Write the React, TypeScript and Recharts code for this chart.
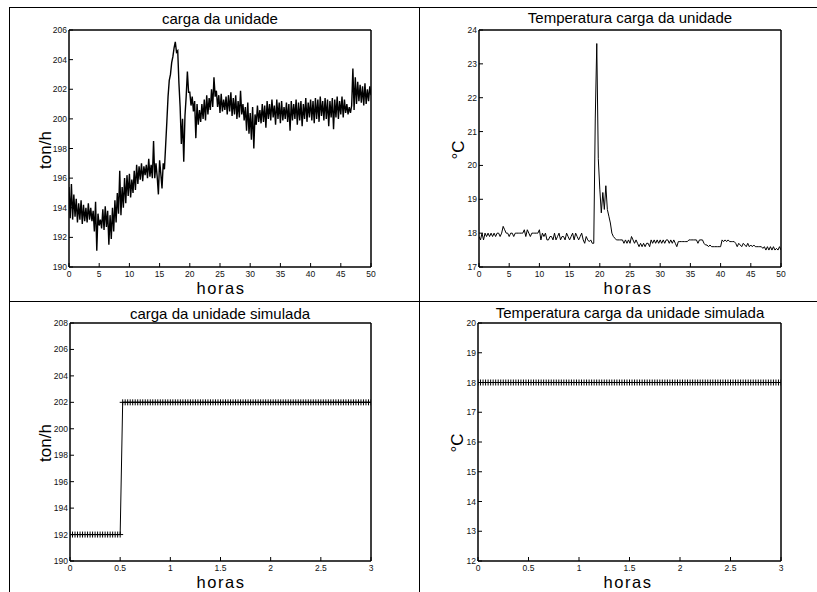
import React from 'react';
import { LineChart, Line, XAxis, YAxis } from 'recharts';

const FONT = '"Liberation Sans", Arial, Helvetica, sans-serif';

// measured feed load, one sample every 0.2 h over 50 h
const LOAD_STEP_H = 0.2;
const loadTonH = [
  195.4, 193.3, 195.6, 193.2, 194.9, 193.4, 194.6, 193.0, 194.3, 193.2,
  194.5, 192.9, 194.2, 193.1, 194.0, 193.0, 194.3, 193.2, 194.0, 193.1,
  193.8, 192.4, 194.4, 191.1, 193.6, 192.8, 193.2, 192.6, 193.9, 192.5,
  194.1, 192.7, 193.8, 191.5, 193.5, 191.9, 194.0, 192.4, 194.5, 193.0,
  195.0, 193.6, 196.5, 193.5, 195.4, 194.0, 196.0, 194.3, 196.2, 194.8,
  196.3, 194.7, 195.9, 195.0, 196.5, 195.2, 196.9, 195.6, 196.8, 195.9,
  197.0, 195.8, 196.8, 196.2, 196.9, 196.0, 197.3, 196.1, 196.9, 196.0,
  198.5, 196.0, 197.0, 196.1, 194.9, 197.2, 196.3, 195.3, 197.0, 196.6,
  198.2, 199.8, 201.5, 202.6, 203.0, 203.8, 204.2, 204.8, 205.2, 204.5,
  204.6, 202.4, 200.8, 198.3, 200.0, 197.1, 200.2, 201.5, 203.2, 201.8,
  201.8, 200.9, 201.5, 200.5, 201.2, 198.7, 201.0, 199.6, 200.6, 199.8,
  201.0, 200.0, 201.3, 199.9, 201.6, 200.3, 201.4, 200.6, 202.0, 200.8,
  202.8, 201.5, 201.9, 200.8, 201.6, 200.4, 201.7, 200.5, 201.3, 200.6,
  201.5, 200.3, 201.6, 200.5, 201.8, 200.2, 201.4, 200.3, 201.6, 200.0,
  201.2, 200.1, 201.9, 200.3, 201.0, 199.9, 200.8, 199.2, 201.1, 199.0,
  200.4, 198.6, 200.8, 198.0, 200.3, 199.6, 200.9, 199.8, 200.6, 199.7,
  201.0, 199.8, 200.9, 199.4, 201.2, 200.0, 201.0, 199.9, 201.3, 200.1,
  200.9, 199.6, 201.3, 200.0, 201.1, 199.7, 201.2, 199.9, 200.8, 200.0,
  201.1, 199.8, 201.0, 199.2, 201.2, 199.9, 201.0, 200.0, 201.3, 199.6,
  201.1, 199.9, 201.2, 199.5, 201.0, 200.0, 201.4, 199.8, 201.1, 200.1,
  201.3, 199.9, 201.2, 199.7, 201.4, 200.0, 201.3, 199.8, 201.5, 200.2,
  201.2, 199.9, 201.4, 200.0, 201.3, 199.5, 201.2, 200.1, 201.4, 199.3,
  201.3, 200.1, 201.5, 200.0, 201.2, 200.3, 201.5, 200.1, 201.3, 200.4,
  201.0, 200.3, 200.8, 200.4, 200.9, 203.4, 200.6, 202.8, 201.0, 202.5,
  201.2, 202.3, 201.1, 202.2, 200.9, 202.4, 201.0, 202.0, 201.2, 202.2,
  201.6,
];

// measured feed temperature, one sample every 0.25 h over 50 h
const TEMP_STEP_H = 0.25;
const tempC = [
  17.9, 17.8, 18.0, 17.8, 18.0, 17.9, 18.0, 17.9,
  18.0, 17.9, 18.0, 17.9, 18.0, 18.0, 17.9, 18.0,
  18.2, 18.1, 18.0, 18.0, 17.9, 18.0, 18.0, 17.9,
  18.0, 18.0, 18.0, 18.0, 18.0, 18.0, 18.1, 17.9,
  18.1, 18.0, 17.9, 18.0, 18.0, 18.0, 18.0, 18.0,
  18.1, 17.8, 18.0, 17.9, 18.0, 17.8, 17.8, 17.9,
  17.9, 17.8, 18.0, 17.8, 17.9, 18.0, 17.8, 17.9,
  17.9, 17.8, 18.0, 17.9, 17.8, 17.9, 18.0, 17.8,
  18.0, 17.9, 17.8, 17.9, 18.0, 17.8, 17.7, 17.9,
  17.8, 17.75, 17.8, 17.7, 17.7, 21.4, 23.6, 20.2,
  19.3, 18.6, 19.2, 18.7, 19.4, 18.7, 18.5, 18.3,
  18.0, 17.9, 17.85, 17.8, 17.8, 17.8, 17.8, 17.8,
  17.7, 17.8, 17.7, 17.8, 17.7, 17.9, 17.8, 17.7,
  17.8, 17.7, 17.6, 17.7, 17.6, 17.7, 17.6, 17.7,
  17.7, 17.6, 17.8, 17.7, 17.8, 17.7, 17.8, 17.7,
  17.8, 17.7, 17.8, 17.7, 17.8, 17.8, 17.7, 17.8,
  17.7, 17.8, 17.7, 17.6, 17.75, 17.75, 17.75, 17.75,
  17.75, 17.75, 17.75, 17.8, 17.8, 17.8, 17.8, 17.8,
  17.8, 17.7, 17.8, 17.8, 17.8, 17.7, 17.65, 17.65,
  17.6, 17.65, 17.6, 17.6, 17.6, 17.6, 17.6, 17.6,
  17.6, 17.8, 17.75, 17.8, 17.75, 17.8, 17.75, 17.75,
  17.75, 17.75, 17.7, 17.6, 17.7, 17.65, 17.6, 17.7,
  17.65, 17.6, 17.7, 17.6, 17.65, 17.6, 17.65, 17.6,
  17.6, 17.6, 17.6, 17.6, 17.55, 17.6, 17.5, 17.6,
  17.5, 17.6, 17.5, 17.6, 17.5, 17.55, 17.5, 17.6,
  17.5,
];

// simulated inputs, one sample every 0.025 h over 3 h
const SIM_STEP_H = 0.025;
const simLoadTonH = [
  192, 192, 192, 192, 192, 192, 192, 192, 192, 192,
  192, 192, 192, 192, 192, 192, 192, 192, 192, 192,
  192, 202, 202, 202, 202, 202, 202, 202, 202, 202,
  202, 202, 202, 202, 202, 202, 202, 202, 202, 202,
  202, 202, 202, 202, 202, 202, 202, 202, 202, 202,
  202, 202, 202, 202, 202, 202, 202, 202, 202, 202,
  202, 202, 202, 202, 202, 202, 202, 202, 202, 202,
  202, 202, 202, 202, 202, 202, 202, 202, 202, 202,
  202, 202, 202, 202, 202, 202, 202, 202, 202, 202,
  202, 202, 202, 202, 202, 202, 202, 202, 202, 202,
  202, 202, 202, 202, 202, 202, 202, 202, 202, 202,
  202, 202, 202, 202, 202, 202, 202, 202, 202, 202,
  202,
];
const simTempC = [
  18, 18, 18, 18, 18, 18, 18, 18, 18, 18,
  18, 18, 18, 18, 18, 18, 18, 18, 18, 18,
  18, 18, 18, 18, 18, 18, 18, 18, 18, 18,
  18, 18, 18, 18, 18, 18, 18, 18, 18, 18,
  18, 18, 18, 18, 18, 18, 18, 18, 18, 18,
  18, 18, 18, 18, 18, 18, 18, 18, 18, 18,
  18, 18, 18, 18, 18, 18, 18, 18, 18, 18,
  18, 18, 18, 18, 18, 18, 18, 18, 18, 18,
  18, 18, 18, 18, 18, 18, 18, 18, 18, 18,
  18, 18, 18, 18, 18, 18, 18, 18, 18, 18,
  18, 18, 18, 18, 18, 18, 18, 18, 18, 18,
  18, 18, 18, 18, 18, 18, 18, 18, 18, 18,
  18,
];

const hourTicks50 = [0, 5, 10, 15, 20, 25, 30, 35, 40, 45, 50];
const hourTicks3 = [0, 0.5, 1, 1.5, 2, 2.5, 3];
const loadTicks = [190, 192, 194, 196, 198, 200, 202, 204, 206];
const simLoadTicks = [190, 192, 194, 196, 198, 200, 202, 204, 206, 208];
const tempTicks = [17, 18, 19, 20, 21, 22, 23, 24];
const simTempTicks = [12, 13, 14, 15, 16, 17, 18, 19, 20];

const toRows = (values: number[], step: number) =>
  values.map((v, i) => ({ t: Math.round(i * step * 1000) / 1000, v }));

const PlusDot = (props: any) => {
  const { cx, cy, index } = props;
  if (cx == null || cy == null) return <g key={index} />;
  return (
    <path
      key={index}
      d={`M${cx - 3},${cy}h6M${cx},${cy - 3}v6`}
      stroke="#000"
      strokeWidth={1}
      fill="none"
    />
  );
};

interface Box { x: number; y: number; }

interface PanelProps {
  left: number;
  top: number;
  width: number;
  height: number;
  // plot rectangle inside the panel box
  plot: { x0: number; y0: number; x1: number; y1: number };
  data: { t: number; v: number }[];
  xTicks: number[];
  yTicks: number[];
  plus?: boolean;
  lineWidth?: number;
  title: string;
  titleAt: Box;
  yLabel: string;
  yLabelAt: Box;
  xLabelAt: Box;
}

const tickText = { fontSize: 8.5, fill: '#111', fontFamily: FONT };
const boxLine = { stroke: '#000', strokeWidth: 1.5 };
const tickMark = { stroke: '#000', strokeWidth: 1 };

// axis bands reserved around the plot rectangle
const LEFT_W = 30;
const BOTTOM_H = 20;
const EDGE = 6;

const labelStyle = (x: number, y: number, size: number, rotate = false): React.CSSProperties => ({
  position: 'absolute',
  left: x,
  top: y,
  transform: rotate ? 'translate(-50%, -50%) rotate(-90deg)' : 'translate(-50%, -50%)',
  whiteSpace: 'nowrap',
  fontFamily: FONT,
  fontSize: size,
  lineHeight: `${Math.round(size * 0.75)}px`,
  color: '#000',
});

const Panel: React.FC<PanelProps> = (p) => {
  const xDomain = [p.xTicks[0], p.xTicks[p.xTicks.length - 1]];
  const yDomain = [p.yTicks[0], p.yTicks[p.yTicks.length - 1]];
  const margin = {
    top: p.plot.y0 - EDGE,
    left: p.plot.x0 - LEFT_W,
    right: p.width - p.plot.x1 - EDGE,
    bottom: p.height - p.plot.y1 - BOTTOM_H,
  };
  return (
    <>
      <div style={{ position: 'absolute', left: p.left, top: p.top }}>
        <LineChart width={p.width} height={p.height} data={p.data} margin={margin}>
          <XAxis
            xAxisId="b"
            dataKey="t"
            type="number"
            domain={xDomain}
            ticks={p.xTicks}
            interval={0}
            allowDataOverflow
            height={BOTTOM_H}
            tickSize={-4}
            tickMargin={8}
            axisLine={boxLine}
            tickLine={tickMark}
            tick={tickText}
          />
          <XAxis
            xAxisId="t"
            orientation="top"
            dataKey="t"
            type="number"
            domain={xDomain}
            ticks={p.xTicks}
            interval={0}
            allowDataOverflow
            height={EDGE}
            tickSize={-4}
            axisLine={boxLine}
            tickLine={tickMark}
            tick={false}
          />
          <YAxis
            yAxisId="l"
            type="number"
            domain={yDomain}
            ticks={p.yTicks}
            interval={0}
            allowDataOverflow
            width={LEFT_W}
            tickSize={-4}
            tickMargin={6}
            axisLine={boxLine}
            tickLine={tickMark}
            tick={tickText}
          />
          <YAxis
            yAxisId="r"
            orientation="right"
            type="number"
            domain={yDomain}
            ticks={p.yTicks}
            interval={0}
            allowDataOverflow
            width={EDGE}
            tickSize={-4}
            axisLine={boxLine}
            tickLine={tickMark}
            tick={false}
          />
          <Line
            xAxisId="b"
            yAxisId="l"
            dataKey="v"
            type="linear"
            stroke="#000"
            strokeWidth={p.lineWidth ?? 1}
            dot={p.plus ? PlusDot : false}
            activeDot={false}
            isAnimationActive={false}
          />
        </LineChart>
      </div>
      <div style={labelStyle(p.titleAt.x, p.titleAt.y, 15)}>{p.title}</div>
      <div style={labelStyle(p.yLabelAt.x, p.yLabelAt.y, 17, true)}>{p.yLabel}</div>
      <div style={{ ...labelStyle(p.xLabelAt.x, p.xLabelAt.y, 16.5), letterSpacing: 1.5 }}>
        horas
      </div>
    </>
  );
};

const rule = (style: React.CSSProperties) => (
  <div style={{ position: 'absolute', background: '#000', ...style }} />
);

export default function App() {
  return (
    <div
      style={{
        position: 'absolute',
        left: 0,
        top: 0,
        width: 817,
        height: 592,
        overflow: 'hidden',
        background: '#fff',
      }}
    >
      {rule({ left: 9, top: 7, width: 808, height: 1 })}
      {rule({ left: 9, top: 301, width: 808, height: 1 })}
      {rule({ left: 9, top: 7, width: 1, height: 585 })}
      {rule({ left: 419, top: 7, width: 1, height: 585 })}

      <Panel
        left={0}
        top={0}
        width={410}
        height={300}
        plot={{ x0: 69, y0: 30, x1: 371, y1: 267 }}
        data={toRows(loadTonH, LOAD_STEP_H)}
        xTicks={hourTicks50}
        yTicks={loadTicks}
        lineWidth={1.4}
        title="carga da unidade"
        titleAt={{ x: 220, y: 17.5 }}
        yLabel="ton/h"
        yLabelAt={{ x: 45, y: 150 }}
        xLabelAt={{ x: 221, y: 288.3 }}
      />
      <Panel
        left={410}
        top={0}
        width={407}
        height={300}
        plot={{ x0: 69, y0: 30, x1: 371, y1: 267 }}
        data={toRows(tempC, TEMP_STEP_H)}
        xTicks={hourTicks50}
        yTicks={tempTicks}
        title="Temperatura carga da unidade"
        titleAt={{ x: 630, y: 17 }}
        yLabel="°C"
        yLabelAt={{ x: 458, y: 150 }}
        xLabelAt={{ x: 628, y: 288.3 }}
      />
      <Panel
        left={0}
        top={294}
        width={410}
        height={298}
        plot={{ x0: 70, y0: 29, x1: 371, y1: 267 }}
        data={toRows(simLoadTonH, SIM_STEP_H)}
        xTicks={hourTicks3}
        yTicks={simLoadTicks}
        plus
        title="carga da unidade simulada"
        titleAt={{ x: 220, y: 313 }}
        yLabel="ton/h"
        yLabelAt={{ x: 45, y: 443 }}
        xLabelAt={{ x: 221, y: 582.3 }}
      />
      <Panel
        left={410}
        top={294}
        width={407}
        height={298}
        plot={{ x0: 68, y0: 29, x1: 371, y1: 267 }}
        data={toRows(simTempC, SIM_STEP_H)}
        xTicks={hourTicks3}
        yTicks={simTempTicks}
        plus
        title="Temperatura carga da unidade simulada"
        titleAt={{ x: 630, y: 312 }}
        yLabel="°C"
        yLabelAt={{ x: 457, y: 443 }}
        xLabelAt={{ x: 628, y: 582.3 }}
      />
    </div>
  );
}
